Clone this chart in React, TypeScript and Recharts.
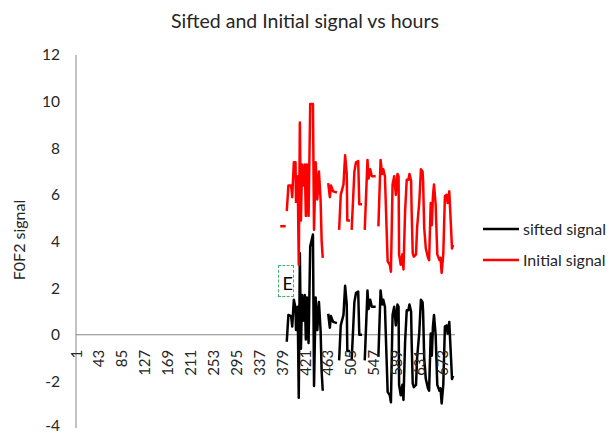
import React from "react";
import {
  Legend,
  Line,
  LineChart,
  ReferenceLine,
  XAxis,
  YAxis,
} from "recharts";

// hours (x) where the traced vertices sit; null rows break the lines
const hours = [
  375, 385, 386,
  387, 390, 395, 397, 400, 403, 404, 407, 409, 411, 413, 415, 417, 420, 422,
  424, 427, 430, 435, 437, 440, 443, 446, 449, 451, 453, 455,
  463, 466, 468, 472, 479, 480,
  483, 486, 491, 494, 497, 498, 503, 504,
  506, 511, 514, 518, 520, 525, 527,
  530, 535, 537, 540, 543, 550, 551,
  555, 559, 562, 564, 567, 570, 572, 576, 578, 581, 584, 587, 590, 592, 593,
  596, 599, 601, 604, 607, 610, 612, 615, 616, 618, 620, 624, 626, 630, 633,
  636, 637, 639, 642, 646, 648, 651, 653, 655, 657, 660, 663, 667, 669, 671,
  674, 677, 680, 682, 685, 688, 690, 692,
];

const initialSignal: (number | null)[] = [
  4.65, 4.65, null,
  5.3, 6.4, 6.4, 5.9, 7.4, 7.4, 5.7, 6.8, 3.0, 9.1, 4.9, 7.3, 6.4, 7.3, 5.1,
  7.3, 5.1, 9.9, 9.9, 4.5, 7.4, 5.8, 7.0, 5.8, 4.0, 3.3, null,
  6.5, 5.9, 6.4, 6.15, 6.1, null,
  4.5, 6.0, 6.45, 7.7, 6.9, 4.9, 4.9, null,
  4.5, 7.0, 7.4, 7.45, 5.6, 5.6, null,
  4.5, 7.5, 6.7, 7.1, 6.8, 6.8, null,
  4.65, 7.5, 6.9, 7.1, 6.8, 4.6, 3.15, 3.0, 2.7, 6.45, 6.8, 6.0, 6.9, 6.8, 3.45,
  3.0, 3.45, 2.8, 5.3, 6.65, 6.65, 6.9, 6.6, 5.3, 3.5, 3.35, 3.45, 4.6, 5.7, 7.1,
  7.0, 6.6, 4.6, 3.7, 3.3, 3.2, 5.65, 4.7, 5.95, 6.45, 5.6, 3.45, 3.2, 3.3, 2.65,
  3.45, 5.95, 6.0, 5.65, 6.15, 4.7, 3.7, 3.85,
];

const siftedSignal: (number | null)[] = [
  null, null, null,
  -0.3, 0.85, 0.8, 0.35, 1.5, 1.15, 0.2, 1.2, -2.7, 3.5, -0.6, 1.7, 0.6, 1.7, -0.2,
  1.6, -0.35, 3.8, 4.3, -2.2, 1.6, 0.2, 1.4, 0.2, -1.6, -2.4, null,
  0.9, 0.3, 0.8, 0.55, 0.5, null,
  -1.1, 0.4, 0.85, 2.1, 1.3, -0.7, -0.7, null,
  -1.1, 1.4, 1.8, 1.85, 0.0, 0.0, null,
  -1.1, 1.9, 1.1, 1.5, 1.2, 1.2, null,
  -0.95, 1.9, 1.3, 1.5, 1.2, -1.0, -2.45, -2.6, -2.9, 0.85, 1.2, 0.4, 1.3, 1.2, -2.15,
  -2.6, -2.15, -2.8, -0.3, 1.05, 1.05, 1.3, 1.0, -0.3, -2.1, -2.25, -2.15, -1.0, 0.1, 1.5,
  1.4, 1.0, -1.0, -1.9, -2.3, -2.4, 0.05, -0.9, 0.35, 0.85, 0.0, -2.15, -2.4, -2.3, -2.95,
  -2.15, 0.35, 0.4, 0.05, 0.55, -0.9, -1.9, -1.75,
];

const xTicks = [1, 43, 85, 127, 169, 211, 253, 295, 337, 379, 421, 463, 505, 547, 589, 631, 673];
const yTicks = [-4, -2, 0, 2, 4, 6, 8, 10, 12];

const W = 610;
const H = 435;
const PLOT_TOP = 55;
const PLOT_BOTTOM = 428;
const X_AXIS_H = 2;
const Y_MIN = -4;
const Y_MAX = 12;
// where the category axis crosses (value 0), Excel style
const ZERO_Y = PLOT_TOP + ((Y_MAX - 0) / (Y_MAX - Y_MIN)) * (PLOT_BOTTOM - PLOT_TOP);

const FONT = "Lato, 'Open Sans', sans-serif";
const TEXT = "#262626";

const rows = hours.map((h, i) => ({
  hour: h,
  initial: initialSignal[i],
  sifted: siftedSignal[i],
}));

function HourTick(props: any) {
  const { x, payload } = props;
  const y = ZERO_Y + 15;
  return (
    <text
      x={x}
      y={y}
      dy="0.35em"
      textAnchor="end"
      transform={`rotate(-90 ${x} ${y})`}
      fill={TEXT}
      fontSize={15}
      fontFamily={FONT}
    >
      {payload.value}
    </text>
  );
}

function ValueTick(props: any) {
  const { x, y, payload } = props;
  // bottom label sits on the picture edge, lift it a hair so it isn't clipped
  const yy = payload.value === Y_MIN ? y - 2 : y;
  return (
    <text
      x={x}
      y={yy}
      dy="0.35em"
      textAnchor="end"
      fill={TEXT}
      fontSize={15.5}
      fontFamily={FONT}
    >
      {payload.value}
    </text>
  );
}

const legendItems = [
  { name: "sifted signal", color: "#000000" },
  { name: "Initial signal", color: "#FF0000" },
];

function LegendBox() {
  return (
    <div style={{ fontFamily: FONT, fontSize: 16, color: TEXT }}>
      {legendItems.map((it) => (
        <div key={it.name} style={{ display: "flex", alignItems: "center", height: 31 }}>
          <svg width={36} height={4} style={{ marginRight: 4 }}>
            <line x1={0} y1={2} x2={36} y2={2} stroke={it.color} strokeWidth={2.5} />
          </svg>
          <span style={{ whiteSpace: "nowrap" }}>{it.name}</span>
        </div>
      ))}
    </div>
  );
}

export default function App() {
  return (
    <div style={{ position: "relative", width: W, height: H, background: "#fff" }}>
      <style>{`body{margin:0}`}</style>
      <div
        style={{
          position: "absolute",
          top: 11,
          left: 0,
          width: W,
          textAlign: "center",
          fontFamily: FONT,
          fontSize: 19.5,
          lineHeight: "20px",
          color: TEXT,
        }}
      >
        Sifted and Initial signal vs hours
      </div>
      <div
        style={{
          position: "absolute",
          left: 18,
          top: 240,
          transform: "translate(-50%, -50%) rotate(-90deg)",
          fontFamily: FONT,
          fontSize: 16,
          color: TEXT,
          whiteSpace: "nowrap",
        }}
      >
        F0F2 signal
      </div>
      <LineChart
        width={W}
        height={H}
        data={rows}
        margin={{ top: PLOT_TOP, right: 155, bottom: H - PLOT_BOTTOM - X_AXIS_H, left: 0 }}
      >
        <XAxis
          dataKey="hour"
          type="number"
          domain={[0.5, 695.5]}
          ticks={xTicks}
          interval={0}
          axisLine={false}
          tickLine={false}
          height={X_AXIS_H}
          tick={HourTick}
          allowDataOverflow
        />
        <YAxis
          type="number"
          domain={[Y_MIN, Y_MAX]}
          ticks={yTicks}
          interval={0}
          width={76}
          axisLine={{ stroke: "#868686" }}
          tickLine={false}
          tickSize={6}
          tickMargin={10}
          tick={ValueTick}
        />
        <ReferenceLine y={0} stroke="#868686" strokeWidth={1} />
        <Legend
          layout="horizontal"
          verticalAlign="middle"
          align="center"
          content={<LegendBox />}
          wrapperStyle={{ left: 483, top: 213, width: 127 }}
        />
        <Line
          dataKey="sifted"
          name="sifted signal"
          stroke="#000000"
          strokeWidth={2.5}
          strokeLinejoin="round"
          dot={false}
          connectNulls={false}
          isAnimationActive={false}
        />
        <Line
          dataKey="initial"
          name="Initial signal"
          stroke="#FF0000"
          strokeWidth={2.5}
          strokeLinejoin="round"
          dot={false}
          connectNulls={false}
          isAnimationActive={false}
        />
      </LineChart>
      <div
        style={{
          position: "absolute",
          left: 278,
          top: 265,
          width: 16,
          height: 32,
          border: "1px dashed #3cb371",
          overflow: "hidden",
          display: "flex",
          alignItems: "center",
          justifyContent: "flex-end",
          fontFamily: FONT,
          fontSize: 18,
          color: "#000",
          paddingTop: 4,
          boxSizing: "border-box",
        }}
      >
        E
      </div>
    </div>
  );
}
